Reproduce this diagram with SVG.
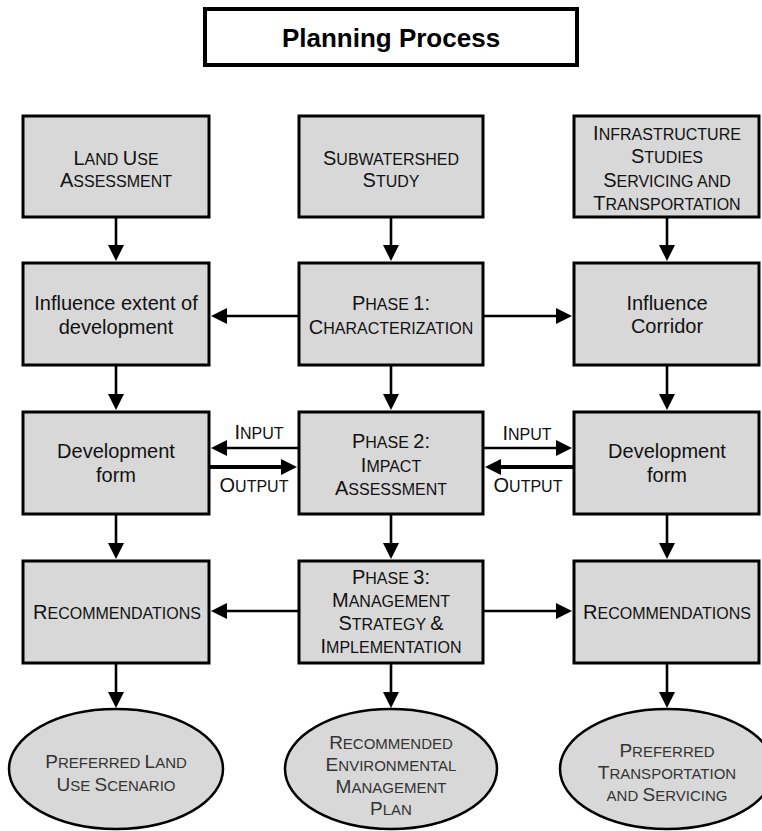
<svg xmlns="http://www.w3.org/2000/svg" width="762" height="831" viewBox="0 0 762 831">
<style>
.box{fill:#d8d8d8;stroke:#000;stroke-width:3}
.ell{fill:#d8d8d8;stroke:#000;stroke-width:2.5}
.t{font-family:"Liberation Sans",Arial,sans-serif;font-size:16px;fill:#111;text-anchor:middle}
.t .c{font-size:20px}
.n{font-family:"Liberation Sans",Arial,sans-serif;font-size:20px;fill:#111;text-anchor:middle}
.e{font-family:"Liberation Sans",Arial,sans-serif;font-size:15px;fill:#333;text-anchor:middle}
.e .c{font-size:19px}
.title{font-family:"Liberation Sans",Arial,sans-serif;font-size:26px;font-weight:bold;fill:#000;text-anchor:middle}
.ln{stroke:#000;stroke-width:2.6;fill:none;marker-end:url(#ah)}
.thick{stroke-width:4}
</style>
<defs>
<marker id="ah" markerUnits="userSpaceOnUse" markerWidth="16" markerHeight="16" refX="1" refY="8" orient="auto">
<path d="M0,0 L16,8 L0,16 z" fill="#000"/>
</marker>
</defs>
<rect width="762" height="831" fill="#fff"/>

<g id="title">
<rect x="205" y="9" width="372" height="56" fill="#fff" stroke="#000" stroke-width="4"/>
<text class="title" x="391" y="47">Planning Process</text>
</g>

<g id="connectors">
<!-- row1 to row2 -->
<line class="ln" x1="116" y1="218" x2="116" y2="246"/>
<line class="ln" x1="391" y1="218" x2="391" y2="246"/>
<line class="ln" x1="667" y1="218" x2="667" y2="246"/>
<!-- row2 horizontal -->
<line class="ln" x1="299" y1="316" x2="226" y2="316"/>
<line class="ln" x1="483" y1="316" x2="557" y2="316"/>
<!-- row2 to row3 -->
<line class="ln" x1="116" y1="366" x2="116" y2="395"/>
<line class="ln" x1="391" y1="366" x2="391" y2="395"/>
<line class="ln" x1="667" y1="366" x2="667" y2="395"/>
<!-- row3 input/output -->
<line class="ln" x1="299" y1="448" x2="226" y2="448"/>
<line class="ln thick" x1="209" y1="467" x2="282" y2="467"/>
<line class="ln" x1="483" y1="448" x2="557" y2="448"/>
<line class="ln thick" x1="574" y1="467" x2="500" y2="467"/>
<!-- row3 to row4 -->
<line class="ln" x1="116" y1="515" x2="116" y2="544"/>
<line class="ln" x1="391" y1="515" x2="391" y2="544"/>
<line class="ln" x1="667" y1="515" x2="667" y2="544"/>
<!-- row4 horizontal -->
<line class="ln" x1="299" y1="611" x2="226" y2="611"/>
<line class="ln" x1="483" y1="611" x2="557" y2="611"/>
<!-- row4 to ellipses -->
<line class="ln" x1="116" y1="664" x2="116" y2="693"/>
<line class="ln" x1="391" y1="664" x2="391" y2="693"/>
<line class="ln" x1="667" y1="664" x2="667" y2="693"/>
<text class="t" x="259" y="439"><tspan class="c">I</tspan>NPUT</text>
<text class="t" x="254" y="492"><tspan class="c">O</tspan>UTPUT</text>
<text class="t" x="527" y="440"><tspan class="c">I</tspan>NPUT</text>
<text class="t" x="528" y="492"><tspan class="c">O</tspan>UTPUT</text>
</g>

<g id="land-use">
<rect class="box" x="23" y="116" width="186" height="101"/>
<text class="t" x="116" y="165"><tspan class="c">L</tspan>AND <tspan class="c">U</tspan>SE</text>
<text class="t" x="116" y="187"><tspan class="c">A</tspan>SSESSMENT</text>
</g>
<g id="subwatershed">
<rect class="box" x="299" y="116" width="184" height="101"/>
<text class="t" x="391" y="165"><tspan class="c">S</tspan>UBWATERSHED</text>
<text class="t" x="391" y="187"><tspan class="c">S</tspan>TUDY</text>
</g>
<g id="infrastructure">
<rect class="box" x="574" y="116" width="185" height="101"/>
<text class="t" x="667" y="140"><tspan class="c">I</tspan>NFRASTRUCTURE</text>
<text class="t" x="667" y="163"><tspan class="c">S</tspan>TUDIES</text>
<text class="t" x="667" y="187"><tspan class="c">S</tspan>ERVICING AND</text>
<text class="t" x="667" y="210"><tspan class="c">T</tspan>RANSPORTATION</text>
</g>

<g id="influence-extent">
<rect class="box" x="23" y="263" width="186" height="102"/>
<text class="n" x="116" y="310">Influence extent of</text>
<text class="n" x="116" y="334">development</text>
</g>
<g id="phase1">
<rect class="box" x="299" y="263" width="184" height="102"/>
<text class="t" x="391" y="310"><tspan class="c">P</tspan>HASE <tspan class="c">1:</tspan></text>
<text class="t" x="391" y="334"><tspan class="c">C</tspan>HARACTERIZATION</text>
</g>
<g id="influence-corridor">
<rect class="box" x="574" y="263" width="185" height="102"/>
<text class="n" x="667" y="310">Influence</text>
<text class="n" x="667" y="333">Corridor</text>
</g>

<g id="devform-left">
<rect class="box" x="23" y="412" width="186" height="102"/>
<text class="n" x="116" y="458">Development</text>
<text class="n" x="116" y="482">form</text>
</g>
<g id="phase2">
<rect class="box" x="299" y="412" width="184" height="102"/>
<text class="t" x="391" y="448"><tspan class="c">P</tspan>HASE <tspan class="c">2:</tspan></text>
<text class="t" x="391" y="472"><tspan class="c">I</tspan>MPACT</text>
<text class="t" x="391" y="495"><tspan class="c">A</tspan>SSESSMENT</text>
</g>
<g id="devform-right">
<rect class="box" x="574" y="412" width="185" height="102"/>
<text class="n" x="667" y="458">Development</text>
<text class="n" x="667" y="482">form</text>
</g>

<g id="recs-left">
<rect class="box" x="23" y="561" width="186" height="102"/>
<text class="t" x="117" y="619"><tspan class="c">R</tspan>ECOMMENDATIONS</text>
</g>
<g id="phase3">
<rect class="box" x="299" y="561" width="184" height="102"/>
<text class="t" x="391" y="584"><tspan class="c">P</tspan>HASE <tspan class="c">3:</tspan></text>
<text class="t" x="391" y="607"><tspan class="c">M</tspan>ANAGEMENT</text>
<text class="t" x="391" y="630"><tspan class="c">S</tspan>TRATEGY <tspan class="c">&amp;</tspan></text>
<text class="t" x="391" y="653"><tspan class="c">I</tspan>MPLEMENTATION</text>
</g>
<g id="recs-right">
<rect class="box" x="574" y="561" width="185" height="102"/>
<text class="t" x="667" y="619"><tspan class="c">R</tspan>ECOMMENDATIONS</text>
</g>

<g id="preferred-land-use">
<ellipse class="ell" cx="116" cy="769" rx="107" ry="60"/>
<text class="e" x="116" y="768"><tspan class="c">P</tspan>REFERRED <tspan class="c">L</tspan>AND</text>
<text class="e" x="116" y="791"><tspan class="c">U</tspan>SE <tspan class="c">S</tspan>CENARIO</text>
</g>
<g id="env-plan">
<ellipse class="ell" cx="391" cy="769" rx="106" ry="60"/>
<text class="e" x="391" y="749"><tspan class="c">R</tspan>ECOMMENDED</text>
<text class="e" x="391" y="771"><tspan class="c">E</tspan>NVIRONMENTAL</text>
<text class="e" x="391" y="793"><tspan class="c">M</tspan>ANAGEMENT</text>
<text class="e" x="391" y="815"><tspan class="c">P</tspan>LAN</text>
</g>
<g id="preferred-transport">
<ellipse class="ell" cx="667" cy="769" rx="107" ry="60"/>
<text class="e" x="667" y="757"><tspan class="c">P</tspan>REFERRED</text>
<text class="e" x="667" y="779"><tspan class="c">T</tspan>RANSPORTATION</text>
<text class="e" x="667" y="801">AND <tspan class="c">S</tspan>ERVICING</text>
</g>
</svg>
